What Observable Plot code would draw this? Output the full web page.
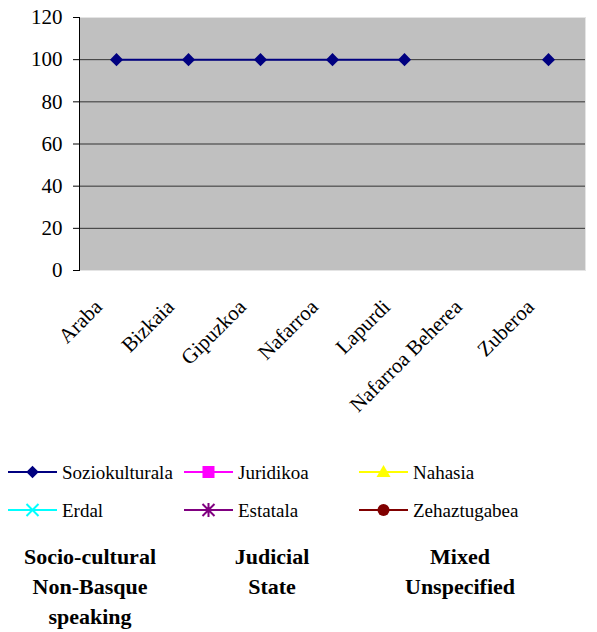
<!DOCTYPE html>
<html>
<head>
<meta charset="utf-8">
<script src="https://cdn.jsdelivr.net/npm/d3@7"></script>
<script src="https://cdn.jsdelivr.net/npm/@observablehq/plot@0.6"></script>
<style>
  html, body { margin: 0; padding: 0; background: #fff; }
  #wrap { width: 597px; font-family: 'Liberation Serif'; }
  #legend { display: block; }
  #notes { position: relative; height: 110px; }
  #notes div { position: absolute; width: 200px; text-align: center; font-family: 'Liberation Serif'; font-weight: bold; font-size: 22px; line-height: 30px; }
  svg text { font-family: 'Liberation Serif'; }
</style>
</head>
<body>
<div id="wrap">
  <div id="chart"></div>
  <svg id="legend" width="597" height="100"></svg>
  <div id="notes"></div>
</div>
<script>
// Districts along the horizontal axis
const districts = ["Araba", "Bizkaia", "Gipuzkoa", "Nafarroa", "Lapurdi", "Nafarroa Beherea", "Zuberoa"];
// Share (%) of the socio-cultural type in each district; null = no value
const soziokulturala = [100, 100, 100, 100, 100, null, 100];
const yTicks = [0, 20, 40, 60, 80, 100, 120];
const gridValues = [20, 40, 60, 80, 100];

// Legend series: name, colour, symbol
const seriesNames = ["Soziokulturala", "Juridikoa", "Nahasia", "Erdal", "Estatala", "Zehaztugabea"];
const seriesColors = ["#000080", "#ff00ff", "#ffff00", "#00ffff", "#800080", "#800000"];
const seriesSymbols = ["diamond", "square", "triangle", "times", "asterisk", "circle"];

// English glosses printed under the legend, one column per pair
const glosses = [
  ["Socio-cultural", "Non-Basque", "speaking"],
  ["Judicial", "State"],
  ["Mixed", "Unspecified"]
];

const data = districts.map((d, i) => ({district: d, value: soziokulturala[i]}));
const points = data.filter(d => d.value != null);

const chart = Plot.plot({
  width: 597,
  height: 440,
  marginLeft: 79,
  marginRight: 12,
  marginTop: 17,
  marginBottom: 170,
  style: {fontFamily: "'Liberation Serif'", background: "#fff", color: "#000"},
  x: {type: "point", domain: districts, padding: 0.5},
  y: {domain: [0, 120]},
  marks: [
    Plot.frame({fill: "#c0c0c0", stroke: "#e4e4e4"}),
    Plot.ruleY(gridValues, {stroke: "#333", strokeWidth: 1}),
    Plot.frame({anchor: "left", stroke: "#000"}),
    Plot.axisY({ticks: yTicks, tickSize: 6, tickPadding: 11, fontSize: 21, label: null}),
    Plot.axisX({tickSize: 0, tickRotate: -45, fontSize: 21, tickPadding: 33, dx: -18, label: null}),
    Plot.line(data, {x: "district", y: "value", stroke: "#000080", strokeWidth: 2}),
    Plot.dot(points, {x: "district", y: "value", symbol: "diamond2", r: 5.9, fill: "#000080", stroke: "none"})
  ]
});
document.getElementById("chart").appendChild(chart);

// Legend: two rows of three entries, each a line with its marker
const legend = d3.select("#legend");
const colX = [8, 184, 359];
const rowY = [32, 70];
seriesNames.forEach((name, i) => {
  const x0 = colX[i % 3], y0 = rowY[Math.floor(i / 3)];
  const g = legend.append("g").attr("transform", `translate(${x0},${y0})`);
  g.append("line").attr("x1", 0).attr("x2", 49).attr("y1", 0).attr("y2", 0)
    .attr("stroke", seriesColors[i]).attr("stroke-width", 2);
  const sym = seriesSymbols[i];
  const m = g.append("g").attr("transform", "translate(24.5,0)");
  if (sym === "diamond") {
    m.append("path").attr("d", d3.symbol(d3.symbolDiamond2, 100)()).attr("fill", seriesColors[i]);
  } else if (sym === "square") {
    m.append("rect").attr("x", -6).attr("y", -6).attr("width", 12).attr("height", 12).attr("fill", seriesColors[i]);
  } else if (sym === "triangle") {
    m.append("path").attr("d", "M0,-7L7,5L-7,5Z").attr("fill", seriesColors[i]);
  } else if (sym === "times") {
    m.append("path").attr("d", "M-6,-6L6,6M-6,6L6,-6").attr("stroke", seriesColors[i]).attr("stroke-width", 2);
  } else if (sym === "asterisk") {
    m.append("path").attr("d", "M-6,-6L6,6M-6,6L6,-6M0,-7L0,7").attr("stroke", seriesColors[i]).attr("stroke-width", 2);
  } else {
    m.append("circle").attr("r", 6).attr("fill", seriesColors[i]);
  }
  g.append("text").attr("x", 54).attr("y", 0).attr("dy", "0.35em")
    .attr("font-size", 19).attr("fill", "#000").text(name);
});

// Glosses under the legend
const notes = d3.select("#notes");
const noteCenters = [90, 272, 460];
glosses.forEach((lines, i) => {
  notes.append("div").style("left", (noteCenters[i] - 100) + "px").style("top", "2px")
    .html(lines.join("<br>"));
});
</script>
</body>
</html>
